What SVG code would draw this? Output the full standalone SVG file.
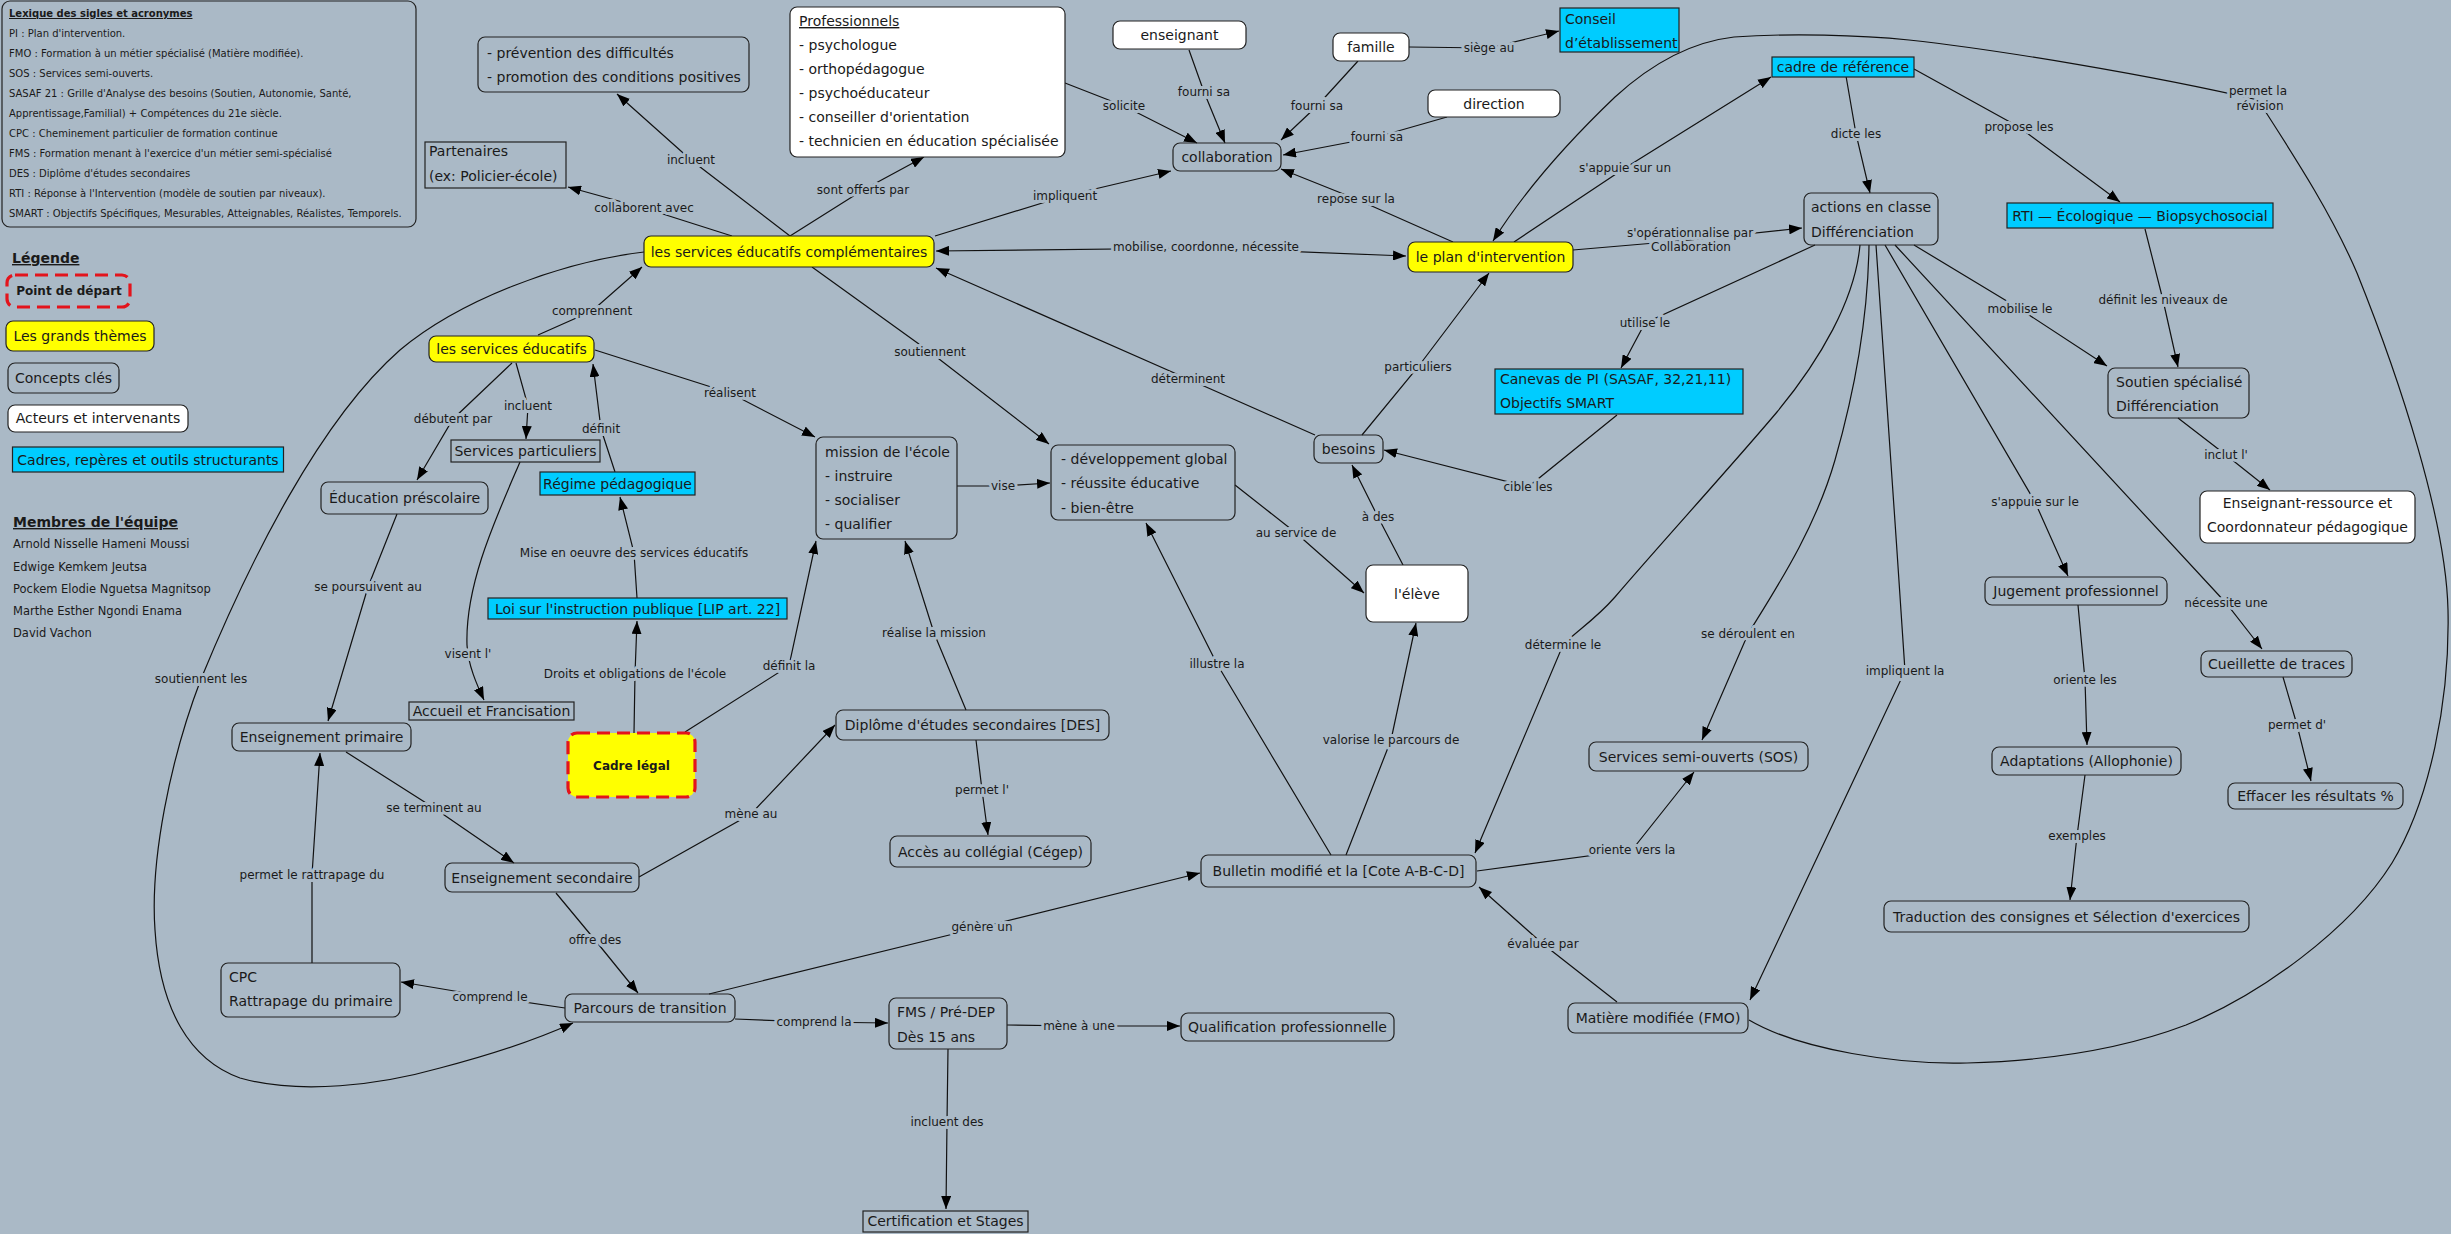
<svg xmlns="http://www.w3.org/2000/svg" width="2451" height="1234" viewBox="0 0 2451 1234">
<defs>
<marker id="ah" viewBox="0 0 13 10" refX="13" refY="5" markerWidth="13" markerHeight="10" orient="auto" markerUnits="userSpaceOnUse"><path d="M0,0 L13,5 L0,10 z" fill="#000"/></marker>
<style>
text{font-family:"DejaVu Sans",Verdana,sans-serif;fill:#1a1a1a}
.t{font-size:14px}
.m{text-anchor:middle}
.b{font-weight:bold}
.u{text-decoration:underline}
.lx{font-size:10px}
.nm{font-size:11.5px}
.l{font-size:12px;text-anchor:middle;stroke:#AAB9C6;stroke-width:6;stroke-linejoin:round;paint-order:stroke}
.k{fill:none;stroke:#222;stroke-width:1.2}
.y{fill:#FFFF00;stroke:#222;stroke-width:1.2}
.w{fill:#FFFFFF;stroke:#222;stroke-width:1.2}
.c{fill:#00CCFF;stroke:#222;stroke-width:1.2}
.d{stroke:#E3141C;stroke-width:3.2;stroke-dasharray:13 7}
.e{fill:none;stroke:#111;stroke-width:1.2;marker-end:url(#ah)}
.p{fill:none;stroke:#111;stroke-width:1.2}
</style>
</defs>
<rect width="2451" height="1234" fill="#AAB9C6"/>

<g id="connectors">
<path class="e" d="M790,236 L691,160 L617,94"/>
<path class="e" d="M732,236 L644,208 L568,187"/>
<path class="e" d="M790,236 L863,190 L924,157"/>
<path class="e" d="M935,236 L1065,196 L1171,171"/>
<path class="e" d="M1065,83 L1124,106 L1197,143"/>
<path class="e" d="M1189,50 L1204,92 L1225,143"/>
<path class="e" d="M1358,61 L1317,106 L1281,140"/>
<path class="e" d="M1447,117 L1377,137 L1283,155"/>
<path class="e" d="M1409,47 L1489,48 L1559,31"/>
<path class="e" d="M1453,242 L1356,199 L1281,169"/>
<path class="e" d="M1514,242 L1625,168 L1771,77"/>
<path class="e" d="M1573,250 L1690,240 L1802,228"/>
<path class="e" d="M1749,1020 C1800,1050 1900,1065 1967,1063 C2040,1061 2120,1050 2186,1025 C2260,995 2350,930 2392,863 C2430,800 2450,700 2448,610 C2446,520 2400,380 2357,273 C2330,210 2290,150 2258,100 C2150,75 2000,50 1909,40 C1860,35 1790,33 1734,37 C1690,42 1650,65 1615,97 C1570,140 1525,190 1493,241"/>
<path class="e" d="M1206,248 L936,251"/>
<path class="e" d="M1206,248 L1406,256"/>
<path class="e" d="M1315,435 L1188,379 L936,268"/>
<path class="e" d="M1362,435 L1418,367 L1489,273"/>
<path class="e" d="M1617,415 L1528,487 L1384,450"/>
<path class="e" d="M1815,245 L1645,323 L1621,368"/>
<path class="e" d="M1846,76 L1856,134 L1870,193"/>
<path class="e" d="M1914,69 L2019,127 L2120,202"/>
<path class="e" d="M2145,229 L2163,300 L2178,367"/>
<path class="e" d="M1914,245 L2020,309 L2107,366"/>
<path class="e" d="M2178,418 L2226,455 L2270,490"/>
<path class="e" d="M1885,245 L2035,502 L2068,576"/>
<path class="e" d="M1895,245 L2226,603 L2262,649"/>
<path class="e" d="M2078,605 L2085,680 L2087,745"/>
<path class="e" d="M2283,677 L2297,725 L2311,781"/>
<path class="e" d="M2085,775 L2077,836 L2070,900"/>
<path class="e" d="M1876,245 C1882,330 1895,520 1905,671 L1750,1000"/>
<path class="e" d="M1860,245 C1855,300 1820,360 1777,412 C1735,462 1655,550 1615,597 C1595,620 1575,632 1563,645 L1475,853"/>
<path class="e" d="M1869,245 C1868,320 1855,390 1835,460 C1815,530 1775,590 1748,634 L1702,740"/>
<path class="e" d="M1331,855 L1217,664 L1146,523"/>
<path class="e" d="M1346,855 L1391,740 L1416,623"/>
<path class="e" d="M1235,485 L1296,533 L1364,593"/>
<path class="e" d="M1403,565 L1378,517 L1352,465"/>
<path class="e" d="M957,486 L1003,486 L1050,483"/>
<path class="e" d="M812,267 L930,352 L1049,444"/>
<path class="e" d="M595,350 L730,393 L815,437"/>
<path class="e" d="M538,335 L592,311 L642,267"/>
<path class="e" d="M512,363 L453,419 L417,480"/>
<path class="e" d="M516,363 L528,406 L526,439"/>
<path class="e" d="M615,472 L601,429 L593,364"/>
<path class="e" d="M637,598 L634,553 L620,497"/>
<path class="e" d="M634,733 L635,674 L637,621"/>
<path class="e" d="M685,732 L789,666 L816,541"/>
<path class="e" d="M520,462 C495,520 465,585 467,645 C468,665 477,685 484,700"/>
<path class="e" d="M397,514 L368,587 L328,721"/>
<path class="e" d="M346,752 L434,808 L514,863"/>
<path class="e" d="M312,963 L312,875 L320,753"/>
<path class="e" d="M565,1008 L490,997 L401,982"/>
<path class="e" d="M644,252 C560,262 460,300 400,350 C320,420 250,560 201,679 C170,760 150,860 155,930 C160,1010 190,1060 240,1078 C300,1095 380,1085 440,1068 C490,1055 540,1038 573,1023"/>
<path class="e" d="M556,893 L595,940 L638,993"/>
<path class="e" d="M639,877 L751,814 L835,725"/>
<path class="e" d="M966,710 L934,633 L905,541"/>
<path class="e" d="M976,740 L982,790 L988,835"/>
<path class="e" d="M709,994 L982,927 L1200,873"/>
<path class="e" d="M735,1019 L814,1022 L888,1023"/>
<path class="e" d="M1007,1025 L1079,1026 L1180,1026"/>
<path class="e" d="M948,1049 L947,1122 L946,1209"/>
<path class="e" d="M1477,871 L1632,850 L1694,772"/>
<path class="e" d="M1617,1002 L1543,944 L1479,887"/>

<text class="l" x="691" y="164">incluent</text>
<text class="l" x="644" y="212">collaborent avec</text>
<text class="l" x="863" y="194">sont offerts par</text>
<text class="l" x="1065" y="200">impliquent</text>
<text class="l" x="1124" y="110">solicite</text>
<text class="l" x="1204" y="96">fourni sa</text>
<text class="l" x="1317" y="110">fourni sa</text>
<text class="l" x="1377" y="141">fourni sa</text>
<text class="l" x="1489" y="52">siège au</text>
<text class="l" x="1356" y="203">repose sur la</text>
<text class="l" x="1625" y="172">s'appuie sur un</text>
<text class="l" x="1690" y="237">s'opérationnalise par</text>
<text class="l" x="1691" y="251">Collaboration</text>
<text class="l" x="2258" y="95">permet la</text>
<text class="l" x="2260" y="110">révision</text>
<text class="l" x="1206" y="251">mobilise, coordonne, nécessite</text>
<text class="l" x="1188" y="383">déterminent</text>
<text class="l" x="1418" y="371">particuliers</text>
<text class="l" x="1528" y="491">cible les</text>
<text class="l" x="1645" y="327">utilise le</text>
<text class="l" x="1856" y="138">dicte les</text>
<text class="l" x="2019" y="131">propose les</text>
<text class="l" x="2163" y="304">définit les niveaux de</text>
<text class="l" x="2020" y="313">mobilise le</text>
<text class="l" x="2226" y="459">inclut l'</text>
<text class="l" x="2035" y="506">s'appuie sur le</text>
<text class="l" x="2226" y="607">nécessite une</text>
<text class="l" x="2085" y="684">oriente les</text>
<text class="l" x="2297" y="729">permet d'</text>
<text class="l" x="2077" y="840">exemples</text>
<text class="l" x="1905" y="675">impliquent la</text>
<text class="l" x="1563" y="649">détermine le</text>
<text class="l" x="1748" y="638">se déroulent en</text>
<text class="l" x="1217" y="668">illustre la</text>
<text class="l" x="1391" y="744">valorise le parcours de</text>
<text class="l" x="1296" y="537">au service de</text>
<text class="l" x="1378" y="521">à des</text>
<text class="l" x="1003" y="490">vise</text>
<text class="l" x="930" y="356">soutiennent</text>
<text class="l" x="730" y="397">réalisent</text>
<text class="l" x="592" y="315">comprennent</text>
<text class="l" x="453" y="423">débutent par</text>
<text class="l" x="528" y="410">incluent</text>
<text class="l" x="601" y="433">définit</text>
<text class="l" x="634" y="557">Mise en oeuvre des services éducatifs</text>
<text class="l" x="635" y="678">Droits et obligations de l'école</text>
<text class="l" x="789" y="670">définit la</text>
<text class="l" x="468" y="658">visent l'</text>
<text class="l" x="368" y="591">se poursuivent au</text>
<text class="l" x="434" y="812">se terminent au</text>
<text class="l" x="312" y="879">permet le rattrapage du</text>
<text class="l" x="490" y="1001">comprend le</text>
<text class="l" x="201" y="683">soutiennent les</text>
<text class="l" x="595" y="944">offre des</text>
<text class="l" x="751" y="818">mène au</text>
<text class="l" x="934" y="637">réalise la mission</text>
<text class="l" x="982" y="794">permet l'</text>
<text class="l" x="982" y="931">génère un</text>
<text class="l" x="814" y="1026">comprend la</text>
<text class="l" x="1079" y="1030">mène à une</text>
<text class="l" x="947" y="1126">incluent des</text>
<text class="l" x="1632" y="854">oriente vers la</text>
<text class="l" x="1543" y="948">évaluée par</text>
</g>

<g id="lexique">
<rect class="k" x="2" y="1" width="414" height="226" rx="8"/>
<text class="lx b u" x="9" y="17">Lexique des sigles et acronymes</text>
<text class="lx" x="9" y="37">PI : Plan d'intervention.</text>
<text class="lx" x="9" y="57">FMO : Formation à un métier spécialisé (Matière modifiée).</text>
<text class="lx" x="9" y="77">SOS : Services semi-ouverts.</text>
<text class="lx" x="9" y="97">SASAF 21 : Grille d'Analyse des besoins (Soutien, Autonomie, Santé,</text>
<text class="lx" x="9" y="117">Apprentissage,Familial) + Compétences du 21e siècle.</text>
<text class="lx" x="9" y="137">CPC : Cheminement particulier de formation continue</text>
<text class="lx" x="9" y="157">FMS : Formation menant à l'exercice d'un métier semi-spécialisé</text>
<text class="lx" x="9" y="177">DES : Diplôme d'études secondaires</text>
<text class="lx" x="9" y="197">RTI : Réponse à l'Intervention (modèle de soutien par niveaux).</text>
<text class="lx" x="9" y="217">SMART : Objectifs Spécifiques, Mesurables, Atteignables, Réalistes, Temporels.</text>
</g>

<g id="legende">
<text class="t b u" x="12" y="263">Légende</text>
<rect class="d" fill="none" x="7" y="275" width="123" height="32" rx="8"/>
<text class="b m" style="font-size:12px" x="69" y="295">Point de départ</text>
<rect class="y" x="6" y="321" width="148" height="30" rx="7"/>
<text class="t m" x="80" y="341">Les grands thèmes</text>
<rect class="k" x="8" y="363" width="111" height="30" rx="7"/>
<text class="t m" x="63.5" y="383">Concepts clés</text>
<rect class="w" x="8" y="405" width="180" height="27" rx="7"/>
<text class="t m" x="98" y="423">Acteurs et intervenants</text>
<rect class="c" x="12.5" y="447" width="271" height="25"/>
<text class="t m" x="148" y="464.5">Cadres, repères et outils structurants</text>
</g>

<g id="equipe">
<text class="t b u" x="13" y="527">Membres de l'équipe</text>
<text class="nm" x="13" y="548">Arnold Nisselle Hameni Moussi</text>
<text class="nm" x="13" y="571">Edwige Kemkem Jeutsa</text>
<text class="nm" x="13" y="593">Pockem Elodie Nguetsa Magnitsop</text>
<text class="nm" x="13" y="615">Marthe Esther Ngondi Enama</text>
<text class="nm" x="13" y="637">David Vachon</text>
</g>

<g id="prevention"><rect class="k" x="478" y="37" width="271" height="55" rx="7"/>
<text class="t" x="487" y="58">- prévention des difficultés</text>
<text class="t" x="487" y="82">- promotion des conditions positives</text></g>

<g id="partenaires"><rect class="k" x="425" y="142" width="141" height="46"/>
<text class="t" x="429" y="156">Partenaires</text>
<text class="t" x="429" y="181">(ex: Policier-école)</text></g>

<g id="professionnels"><rect class="w" x="790" y="7" width="275" height="150" rx="7"/>
<text class="t u" x="799" y="26">Professionnels</text>
<text class="t" x="799" y="50">- psychologue</text>
<text class="t" x="799" y="74">- orthopédagogue</text>
<text class="t" x="799" y="98">- psychoéducateur</text>
<text class="t" x="799" y="122">- conseiller d'orientation</text>
<text class="t" x="799" y="146">- technicien en éducation spécialisée</text></g>

<g id="enseignant"><rect class="w" x="1113" y="21" width="133" height="28" rx="7"/>
<text class="t m" x="1179.5" y="40">enseignant</text></g>

<g id="famille"><rect class="w" x="1333" y="33" width="76" height="28" rx="7"/>
<text class="t m" x="1371" y="52">famille</text></g>

<g id="conseil"><rect class="c" x="1560" y="8" width="119" height="44"/>
<text class="t" x="1565" y="24">Conseil</text>
<text class="t" x="1565" y="48">d’établissement</text></g>

<g id="direction"><rect class="w" x="1428" y="90" width="132" height="27" rx="7"/>
<text class="t m" x="1494" y="108.5">direction</text></g>

<g id="collaboration"><rect class="k" x="1173" y="143" width="108" height="28" rx="7"/>
<text class="t m" x="1227" y="162">collaboration</text></g>

<g id="cadre-reference"><rect class="c" x="1772" y="57" width="142" height="20"/>
<text class="t m" x="1843" y="72">cadre de référence</text></g>

<g id="sec"><rect class="y" x="644" y="236" width="290" height="31" rx="7"/>
<text class="t m" x="789" y="256.5">les services éducatifs complémentaires</text></g>

<g id="plan"><rect class="y" x="1408" y="242" width="165" height="30" rx="7"/>
<text class="t m" x="1490.5" y="262">le plan d'intervention</text></g>

<g id="actions"><rect class="k" x="1804" y="193" width="134" height="52" rx="7"/>
<text class="t" x="1811" y="212">actions en classe</text>
<text class="t" x="1811" y="237">Différenciation</text></g>

<g id="rti"><rect class="c" x="2007" y="203" width="266" height="25"/>
<text class="t m" x="2140" y="220.5">RTI — Écologique — Biopsychosocial</text></g>

<g id="soutien"><rect class="k" x="2108" y="368" width="141" height="50" rx="7"/>
<text class="t" x="2116" y="387">Soutien spécialisé</text>
<text class="t" x="2116" y="411">Différenciation</text></g>

<g id="enseignant-ressource"><rect class="w" x="2200" y="491" width="215" height="52" rx="7"/>
<text class="t m" x="2307.5" y="508">Enseignant-ressource et</text>
<text class="t m" x="2307.5" y="532">Coordonnateur pédagogique</text></g>

<g id="jugement"><rect class="k" x="1985" y="577" width="182" height="28" rx="7"/>
<text class="t m" x="2076" y="596">Jugement professionnel</text></g>

<g id="cueillette"><rect class="k" x="2201" y="651" width="151" height="26" rx="7"/>
<text class="t m" x="2276.5" y="669">Cueillette de traces</text></g>

<g id="adaptations"><rect class="k" x="1992" y="747" width="189" height="28" rx="7"/>
<text class="t m" x="2086.5" y="766">Adaptations (Allophonie)</text></g>

<g id="effacer"><rect class="k" x="2228" y="783" width="175" height="26" rx="7"/>
<text class="t m" x="2315.5" y="801">Effacer les résultats %</text></g>

<g id="traduction"><rect class="k" x="1884" y="901" width="365" height="31" rx="7"/>
<text class="t m" x="2066.5" y="921.5">Traduction des consignes et Sélection d'exercices</text></g>

<g id="matiere"><rect class="k" x="1568" y="1003" width="180" height="30" rx="7"/>
<text class="t m" x="1658" y="1023">Matière modifiée (FMO)</text></g>

<g id="bulletin"><rect class="k" x="1201" y="855" width="275" height="32" rx="7"/>
<text class="t m" x="1338.5" y="876">Bulletin modifié et la [Cote A-B-C-D]</text></g>

<g id="sos"><rect class="k" x="1589" y="742" width="219" height="29" rx="7"/>
<text class="t m" x="1698.5" y="761.5">Services semi-ouverts (SOS)</text></g>

<g id="eleve"><rect class="w" x="1366" y="565" width="102" height="57" rx="7"/>
<text class="t m" x="1417" y="598.5">l'élève</text></g>

<g id="besoins"><rect class="k" x="1314" y="435" width="69" height="28" rx="7"/>
<text class="t m" x="1348.5" y="454">besoins</text></g>

<g id="canevas"><rect class="c" x="1495" y="369" width="248" height="45"/>
<text class="t" x="1500" y="384">Canevas de PI (SASAF, 32,21,11)</text>
<text class="t" x="1500" y="408">Objectifs SMART</text></g>

<g id="developpement"><rect class="k" x="1051" y="445" width="184" height="75" rx="7"/>
<text class="t" x="1061" y="464">- développement global</text>
<text class="t" x="1061" y="488">- réussite éducative</text>
<text class="t" x="1061" y="513">- bien-être</text></g>

<g id="mission"><rect class="k" x="816" y="437" width="141" height="102" rx="7"/>
<text class="t" x="825" y="457">mission de l'école</text>
<text class="t" x="825" y="481">- instruire</text>
<text class="t" x="825" y="505">- socialiser</text>
<text class="t" x="825" y="529">- qualifier</text></g>

<g id="services-educatifs"><rect class="y" x="429" y="336" width="165" height="26" rx="7"/>
<text class="t m" x="511.5" y="354">les services éducatifs</text></g>

<g id="services-particuliers"><rect class="k" x="451" y="440" width="149" height="22"/>
<text class="t m" x="525.5" y="456">Services particuliers</text></g>

<g id="regime"><rect class="c" x="540" y="472" width="155" height="23"/>
<text class="t m" x="617.5" y="488.5">Régime pédagogique</text></g>

<g id="prescolaire"><rect class="k" x="321" y="482" width="167" height="32" rx="7"/>
<text class="t m" x="404.5" y="503">Éducation préscolaire</text></g>

<g id="lip"><rect class="c" x="488" y="598" width="299" height="21"/>
<text class="t m" x="637.5" y="613.5">Loi sur l'instruction publique [LIP art. 22]</text></g>

<g id="accueil"><rect class="k" x="409" y="702" width="165" height="18"/>
<text class="t m" x="491.5" y="716">Accueil et Francisation</text></g>

<g id="primaire"><rect class="k" x="232" y="723" width="179" height="28" rx="7"/>
<text class="t m" x="321.5" y="742">Enseignement primaire</text></g>

<g id="cadre-legal"><rect class="y d" x="568" y="733" width="127" height="64" rx="9"/>
<text class="b m" style="font-size:12px" x="631.5" y="769.5">Cadre légal</text></g>

<g id="des"><rect class="k" x="836" y="710" width="273" height="30" rx="7"/>
<text class="t m" x="972.5" y="730">Diplôme d'études secondaires [DES]</text></g>

<g id="acces"><rect class="k" x="890" y="836" width="201" height="31" rx="7"/>
<text class="t m" x="990.5" y="856.5">Accès au collégial (Cégep)</text></g>

<g id="secondaire"><rect class="k" x="445" y="863" width="194" height="29" rx="7"/>
<text class="t m" x="542" y="882.5">Enseignement secondaire</text></g>

<g id="cpc"><rect class="k" x="221" y="963" width="179" height="54" rx="7"/>
<text class="t" x="229" y="982">CPC</text>
<text class="t" x="229" y="1006">Rattrapage du primaire</text></g>

<g id="parcours"><rect class="k" x="565" y="994" width="170" height="28" rx="7"/>
<text class="t m" x="650" y="1013">Parcours de transition</text></g>

<g id="fms"><rect class="k" x="889" y="998" width="118" height="51" rx="7"/>
<text class="t" x="897" y="1017">FMS / Pré-DEP</text>
<text class="t" x="897" y="1042">Dès 15 ans</text></g>

<g id="qualification"><rect class="k" x="1181" y="1013" width="213" height="28" rx="7"/>
<text class="t m" x="1287.5" y="1032">Qualification professionnelle</text></g>

<g id="certification"><rect class="k" x="863" y="1211" width="165" height="21"/>
<text class="t m" x="945.5" y="1226">Certification et Stages</text></g>
</svg>
